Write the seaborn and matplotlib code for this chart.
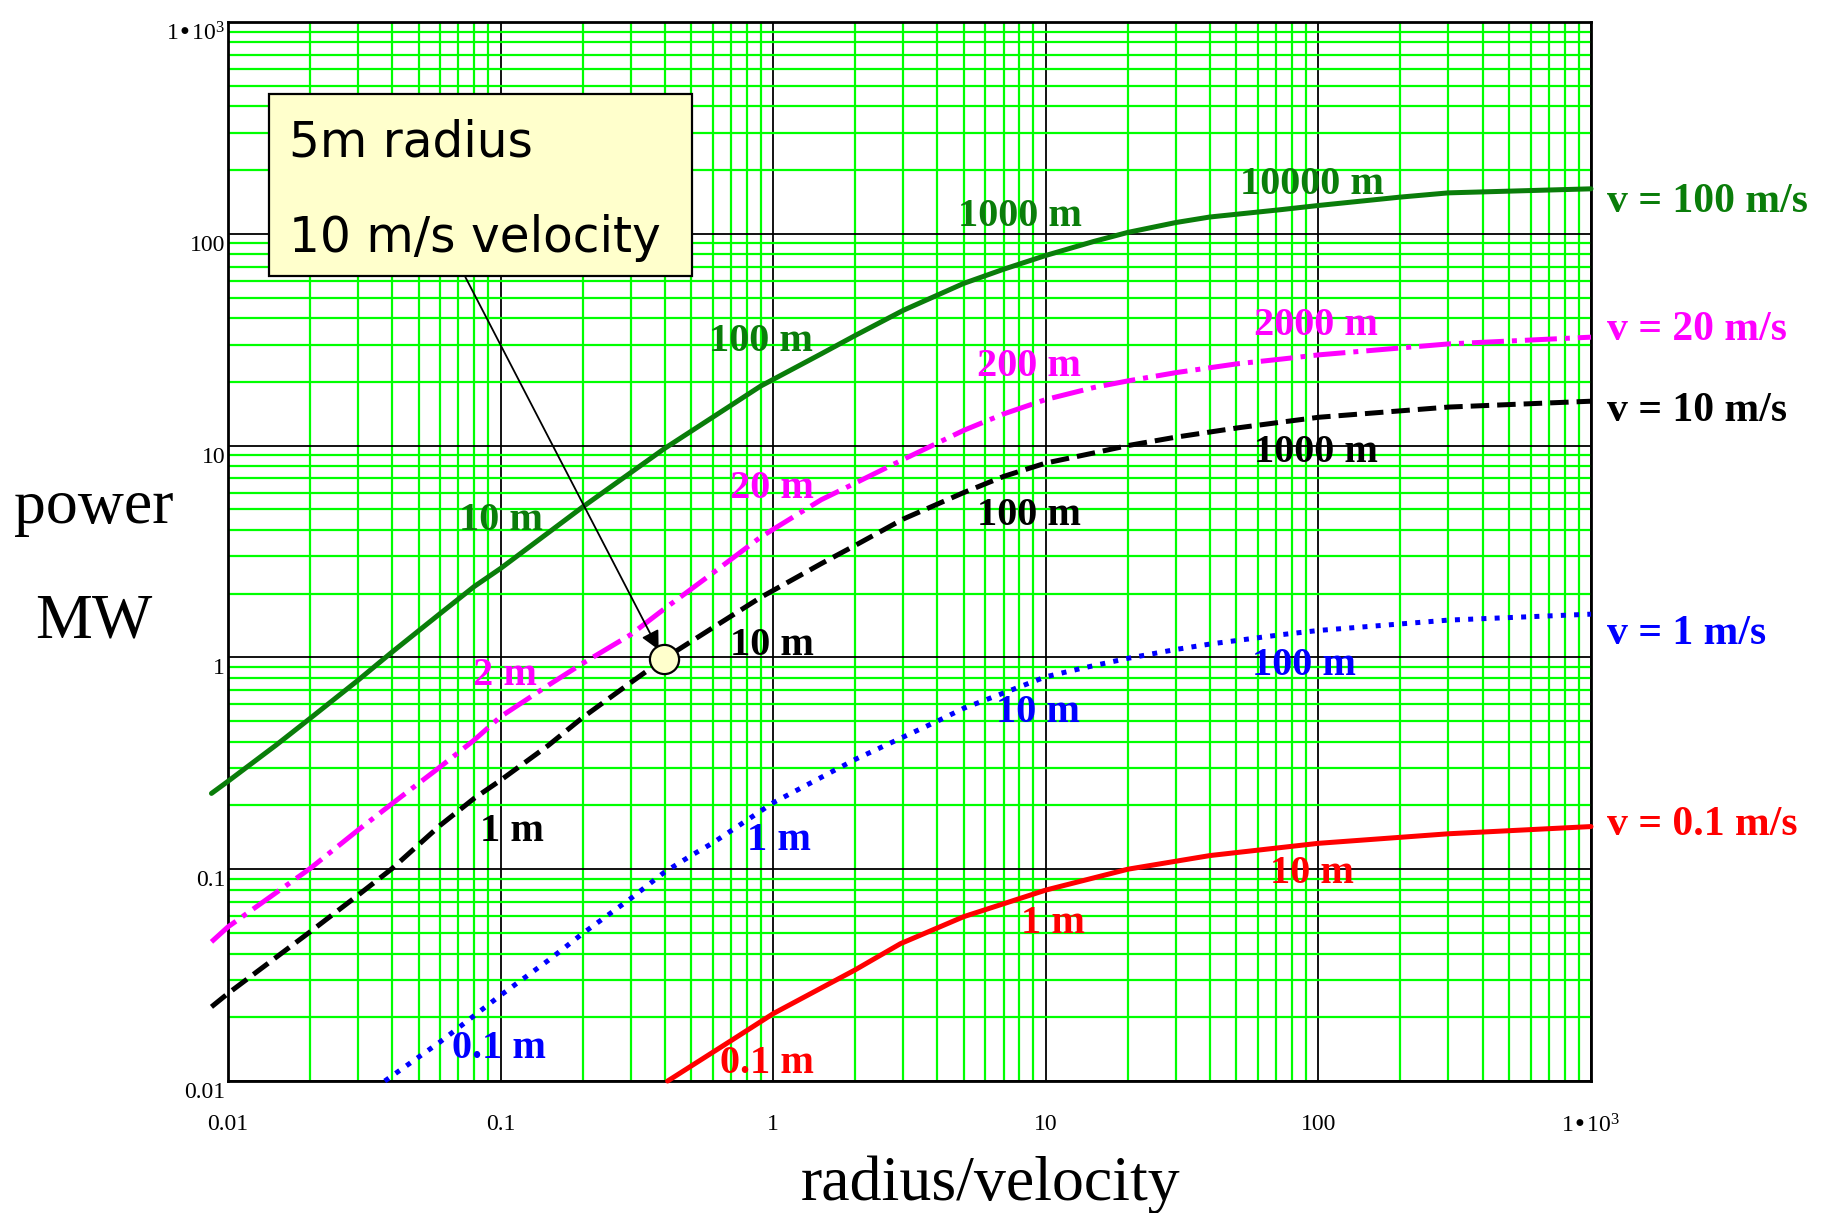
import matplotlib
matplotlib.use("Agg")
import matplotlib.pyplot as plt
from matplotlib.patches import Rectangle
from matplotlib.ticker import LogLocator, NullFormatter
from matplotlib.transforms import ScaledTranslation
import seaborn as sns

# === Curve data (x = radius/velocity, y = power in MW) ===
x_v100 = [0.0087, 0.01, 0.015, 0.02, 0.03, 0.04, 0.06, 0.08, 0.1, 0.2, 0.4, 0.9, 1.5, 2, 3,
          5, 7, 10, 15, 20, 30, 40, 73, 100, 200, 300, 1000]
p_v100 = [0.228, 0.26, 0.385, 0.515, 0.78, 1.06, 1.61, 2.16, 2.63, 5.13, 9.7, 19.1, 27.1, 33.1, 43.5,
          58.3, 68.0, 79.0, 92.0, 101.5, 113.0, 120.0, 130.0, 136.0, 149.0, 156.0, 163.0]

x_v20 = [0.0087, 0.01, 0.02, 0.03, 0.04, 0.06, 0.08, 0.1, 0.15, 0.2, 0.3, 0.4, 0.5, 0.6, 0.9, 1.5,
         2, 3, 5, 7, 10, 15, 20, 30, 50, 73, 100, 300, 1000]
p_v20 = [0.0454, 0.0534, 0.1007, 0.153, 0.204, 0.304, 0.407, 0.525, 0.74, 0.937, 1.28, 1.70, 2.1, 2.5, 3.7, 5.55,
         6.65, 8.6, 11.8, 14.1, 16.5, 18.8, 20.2, 22.1, 24.3, 25.6, 26.8, 30.2, 32.5]

x_v10 = [0.0087, 0.01, 0.02, 0.03, 0.04, 0.06, 0.08, 0.1, 0.15, 0.2, 0.3, 0.4, 0.6, 0.9, 1.5,
         2, 3, 5, 7, 10, 15, 20, 30, 50, 73, 100, 300, 1000]
p_v10 = [0.0224, 0.0259, 0.0506, 0.0754, 0.1007, 0.161, 0.216, 0.263, 0.385, 0.52, 0.76, 0.99, 1.38, 1.92, 2.77,
         3.38, 4.5, 6.0, 7.15, 8.27, 9.23, 10.0, 10.96, 12.1, 12.9, 13.6, 15.2, 16.2]

x_v1 = [0.0376, 0.06, 0.1, 0.15, 0.2, 0.3, 0.4, 0.5, 0.6, 1, 2, 4, 5, 10, 13.9,
        20, 30, 40, 73, 100, 300, 1000]
p_v1 = [0.01, 0.0153, 0.0254, 0.0372, 0.0497, 0.0727, 0.097, 0.116, 0.133, 0.206, 0.33, 0.50, 0.575, 0.81, 0.895,
        0.99, 1.09, 1.156, 1.28, 1.34, 1.5, 1.6]

x_v01 = [0.41, 0.7, 1, 2, 2.93, 5, 10, 20, 40, 100, 300, 1000]
p_v01 = [0.01, 0.0155, 0.0208, 0.0335, 0.0445, 0.0597, 0.0797, 0.1, 0.116, 0.1325, 0.147, 0.159]

# radius labels along each curve: (text, x, y)
labels_v100 = [("10 m", 0.1, 4.43), ("100 m", 0.9, 30.9), ("1000 m", 8.05, 120), ("10000 m", 95, 171)]
labels_v20 = [("2 m", 0.104, 0.818), ("20 m", 0.99, 6.24), ("200 m", 8.7, 23.7), ("2000 m", 98, 36.9)]
labels_v10 = [("1 m", 0.11, 0.151), ("10 m", 0.99, 1.14), ("100 m", 8.7, 4.66), ("1000 m", 98, 9.25)]
labels_v1 = [("0.1 m", 0.099, 0.0143), ("1 m", 1.05, 0.137), ("10 m", 9.4, 0.552), ("100 m", 88.7, 0.917)]
labels_v01 = [("0.1 m", 0.952, 0.0121), ("1 m", 10.6, 0.0554), ("10 m", 95, 0.0957)]

# velocity labels at the right edge
vel_labels = ["v = 100 m/s", "v = 20 m/s", "v = 10 m/s", "v = 1 m/s", "v = 0.1 m/s"]
vel_label_y = [141.6, 35.1, 14.6, 1.29, 0.161]

tick_vals = [0.01, 0.1, 1, 10, 100, 1000]
tick_text = ["0.01", "0.1", "1", "10", "100", "1\u202210$^{3}$"]

# example point: 5 m radius at 10 m/s
point_x, point_y = 0.397, 0.98

GREEN = "#0a7d0a"
MAGENTA = "#ff00ff"
BLUE = "#0000ff"
RED = "#ff0000"

sns.set_style("white")
plt.rcParams["font.family"] = ["Liberation Serif", "DejaVu Serif"]
plt.rcParams["mathtext.default"] = "regular"
for key in ("text.color", "axes.labelcolor", "xtick.color", "ytick.color"):
    plt.rcParams[key] = "black"

fig = plt.figure(figsize=(18.34, 12.13), dpi=100)
ax = fig.add_axes([0.1243, 0.1088, 0.7432, 0.8731])
ax.set_xscale("log")
ax.set_yscale("log")

series = [
    (x_v100, p_v100, GREEN, "-", labels_v100),
    (x_v20, p_v20, MAGENTA, "-.", labels_v20),
    (x_v10, p_v10, "black", "--", labels_v10),
    (x_v1, p_v1, BLUE, ":", labels_v1),
    (x_v01, p_v01, RED, "-", labels_v01),
]
colors = [s[2] for s in series]

for xs, ys, col, ls, labs in series:
    sns.lineplot(x=xs, y=ys, ax=ax, color=col, linestyle=ls, linewidth=3.6,
                 sort=False, estimator=None)
    for txt, lx, ly in labs:
        ax.text(lx, ly, txt, color=col, fontsize=29, fontweight="bold",
                ha="center", va="center", zorder=4)

for line in ax.lines:
    line.set_clip_on(False)
    line.set_zorder(3)

# === Grid ===
for axis in (ax.xaxis, ax.yaxis):
    axis.set_minor_locator(LogLocator(base=10, subs=range(2, 10), numticks=20))
    axis.set_minor_formatter(NullFormatter())
ax.grid(which="minor", color="#00ff00", linewidth=1.6)
ax.grid(which="major", color="black", linewidth=1.3)
ax.set_axisbelow(True)
for sp in ax.spines.values():
    sp.set_color("black")
    sp.set_linewidth(2)

ax.set_xticks(tick_vals, tick_text)
ax.set_yticks(tick_vals, tick_text)
ax.tick_params(which="both", length=0, labelsize=17)
ax.tick_params(axis="x", pad=24)
ax.tick_params(axis="y", pad=2)
ax.set_xlim(0.01, 1000)
ax.set_ylim(0.01, 1000)
shift = ScaledTranslation(0, -9 / 100, fig.dpi_scale_trans)
for lab in ax.get_yticklabels():
    lab.set_transform(lab.get_transform() + shift)

# === Velocity labels ===
for txt, vy, col in zip(vel_labels, vel_label_y, colors):
    ax.text(1.012, vy, txt, color=col, fontsize=30, fontweight="bold",
            ha="left", va="center", transform=ax.get_yaxis_transform(), clip_on=False)

# === Axis titles ===
fig.text(0.051, 0.569, "power", fontsize=46, ha="center", va="baseline")
fig.text(0.051, 0.4748, "MW", fontsize=46, ha="center", va="baseline")
fig.text(0.540, 0.011, "radius/velocity", fontsize=46, ha="center", va="baseline")

# === Annotation box, arrow and point ===
ax.add_patch(Rectangle((0.0301, 0.760), 0.3103, 0.172, transform=ax.transAxes,
                       facecolor="#ffffcc", edgecolor="black", linewidth=1.6, zorder=6))
ax.text(0.0448, 0.8725, "5m radius", transform=ax.transAxes, fontsize=35,
        family="DejaVu Sans", va="baseline", ha="left", zorder=7)
ax.text(0.0448, 0.7828, "10 m/s velocity", transform=ax.transAxes, fontsize=35,
        family="DejaVu Sans", va="baseline", ha="left", zorder=7)
ax.annotate("", xy=(0.38, 1.087), xytext=(0.0743, 62.4),
            arrowprops=dict(arrowstyle="-|>", color="black", lw=1.3,
                            mutation_scale=28, shrinkA=0, shrinkB=0), zorder=5)
ax.plot([point_x], [point_y], marker="o", markersize=21, markerfacecolor="#ffffcc",
        markeredgecolor="black", markeredgewidth=1.6, linestyle="none", zorder=6)

fig.savefig("out.png", dpi=100)
